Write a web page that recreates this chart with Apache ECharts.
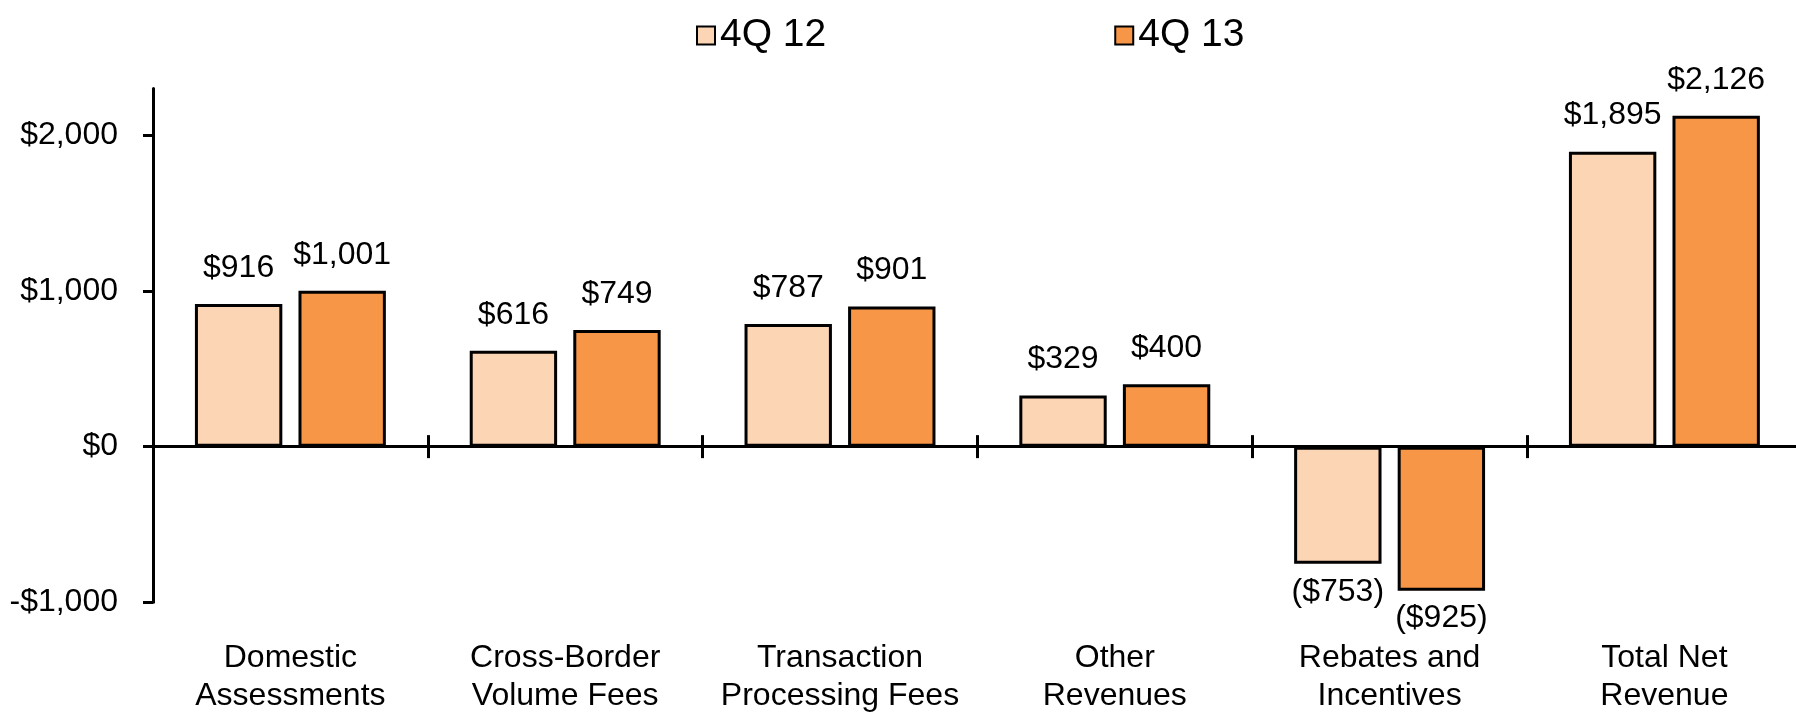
<!DOCTYPE html>
<html>
<head>
<meta charset="utf-8">
<script src="https://cdn.jsdelivr.net/npm/echarts@6/dist/echarts.min.js"></script>
<style>
html,body{margin:0;padding:0;background:#fff;}
#chart{width:1796px;height:714px;}
</style>
</head>
<body>
<div id="chart"></div>
<script>
var categories = [
  "Domestic\nAssessments",
  "Cross-Border\nVolume Fees",
  "Transaction\nProcessing Fees",
  "Other\nRevenues",
  "Rebates and\nIncentives",
  "Total Net\nRevenue"
];
var seriesNames = ["4Q 12", "4Q 13"];
var values4Q12 = [916, 616, 787, 329, -753, 1895];
var values4Q13 = [1001, 749, 901, 400, -925, 2126];
var yTicks = [-1000, 0, 1000, 2000];
var yMin = -1000, yMax = 2300;

var colors = ["#FCD5B5", "#F79646"];
var FONT = "'Liberation Sans', Arial, sans-serif";

function money(v) {
  var s = Math.abs(v).toString().replace(/\B(?=(\d{3})+(?!\d))/g, ",");
  return "$" + s;
}
function axisFmt(v) { return (v < 0 ? "-" : "") + money(v); }
function labelFmt(v) { return v < 0 ? "(" + money(v) + ")" : money(v); }

function buildData(arr) {
  return arr.map(function (v) {
    return {
      value: v,
      label: v < 0 ? { position: "bottom", distance: 12 } : { position: "top", distance: 20 }
    };
  });
}

function makeSeries(name, arr, color) {
  return {
    name: name,
    type: "bar",
    xAxisIndex: 0,
    yAxisIndex: 0,
    barWidth: "31.8%",
    barGap: "18.5%",
    itemStyle: { color: color, borderColor: "#000", borderWidth: 3 },
    label: {
      show: true,
      color: "#000",
      fontFamily: FONT,
      fontSize: 32,
      formatter: function (p) { return labelFmt(p.value); }
    },
    data: buildData(arr)
  };
}

// plot geometry
var H = 714;
var gridLeft = 153, gridRight = -5.8, gridTop = 88.6, gridBottom = 111.7;
var plotH = H - gridTop - gridBottom;
var zeroY = gridTop + plotH * (yMax - 0) / (yMax - yMin);
var tickHalf = 11.5;

var chart = echarts.init(document.getElementById("chart"), null, { renderer: "canvas" });
chart.setOption({
  animation: false,
  backgroundColor: "#fff",
  legend: {
    data: seriesNames,
    left: 691,
    top: 11,
    icon: "rect",
    itemWidth: 18,
    itemHeight: 18,
    itemGap: 288,
    textStyle: { fontFamily: FONT, fontSize: 39, color: "#000" }
  },
  grid: [
    { left: gridLeft, right: gridRight, top: gridTop, bottom: gridBottom, containLabel: false, outerBoundsMode: "none" },
    { left: gridLeft, right: gridRight, top: zeroY - tickHalf, height: tickHalf * 2, containLabel: false, outerBoundsMode: "none" }
  ],
  xAxis: [
    {
      gridIndex: 0,
      type: "category",
      data: categories,
      axisLine: { show: true, onZero: true, lineStyle: { color: "#000", width: 3 } },
      axisTick: { show: false },
      axisLabel: { show: false },
      splitLine: { show: false }
    },
    {
      gridIndex: 1,
      type: "category",
      data: categories,
      position: "bottom",
      axisLine: { show: false, onZero: false },
      axisTick: { show: false },
      axisLabel: {
        show: true, interval: 0, margin: 658 - 19.25 - (zeroY + tickHalf),
        color: "#000", fontFamily: FONT, fontSize: 32, lineHeight: 38.5
      },
      splitLine: { show: true, interval: 0, lineStyle: { color: "#000", width: 3 } }
    }
  ],
  yAxis: [
    {
      gridIndex: 0,
      type: "value",
      min: yMin,
      max: yMax,
      interval: 1000,
      axisLine: { show: true, onZero: false, lineStyle: { color: "#000", width: 3 } },
      axisTick: { show: true, inside: false, length: 10, customValues: yTicks, lineStyle: { color: "#000", width: 3 } },
      axisLabel: {
        show: true, margin: 35, customValues: yTicks,
        color: "#000", fontFamily: FONT, fontSize: 32,
        formatter: function (v) { return axisFmt(v); }
      },
      splitLine: { show: false }
    },
    {
      gridIndex: 1,
      type: "value",
      min: 0,
      max: 1,
      show: false
    }
  ],
  series: [
    makeSeries(seriesNames[0], values4Q12, colors[0]),
    makeSeries(seriesNames[1], values4Q13, colors[1])
  ]
});
</script>
</body>
</html>
